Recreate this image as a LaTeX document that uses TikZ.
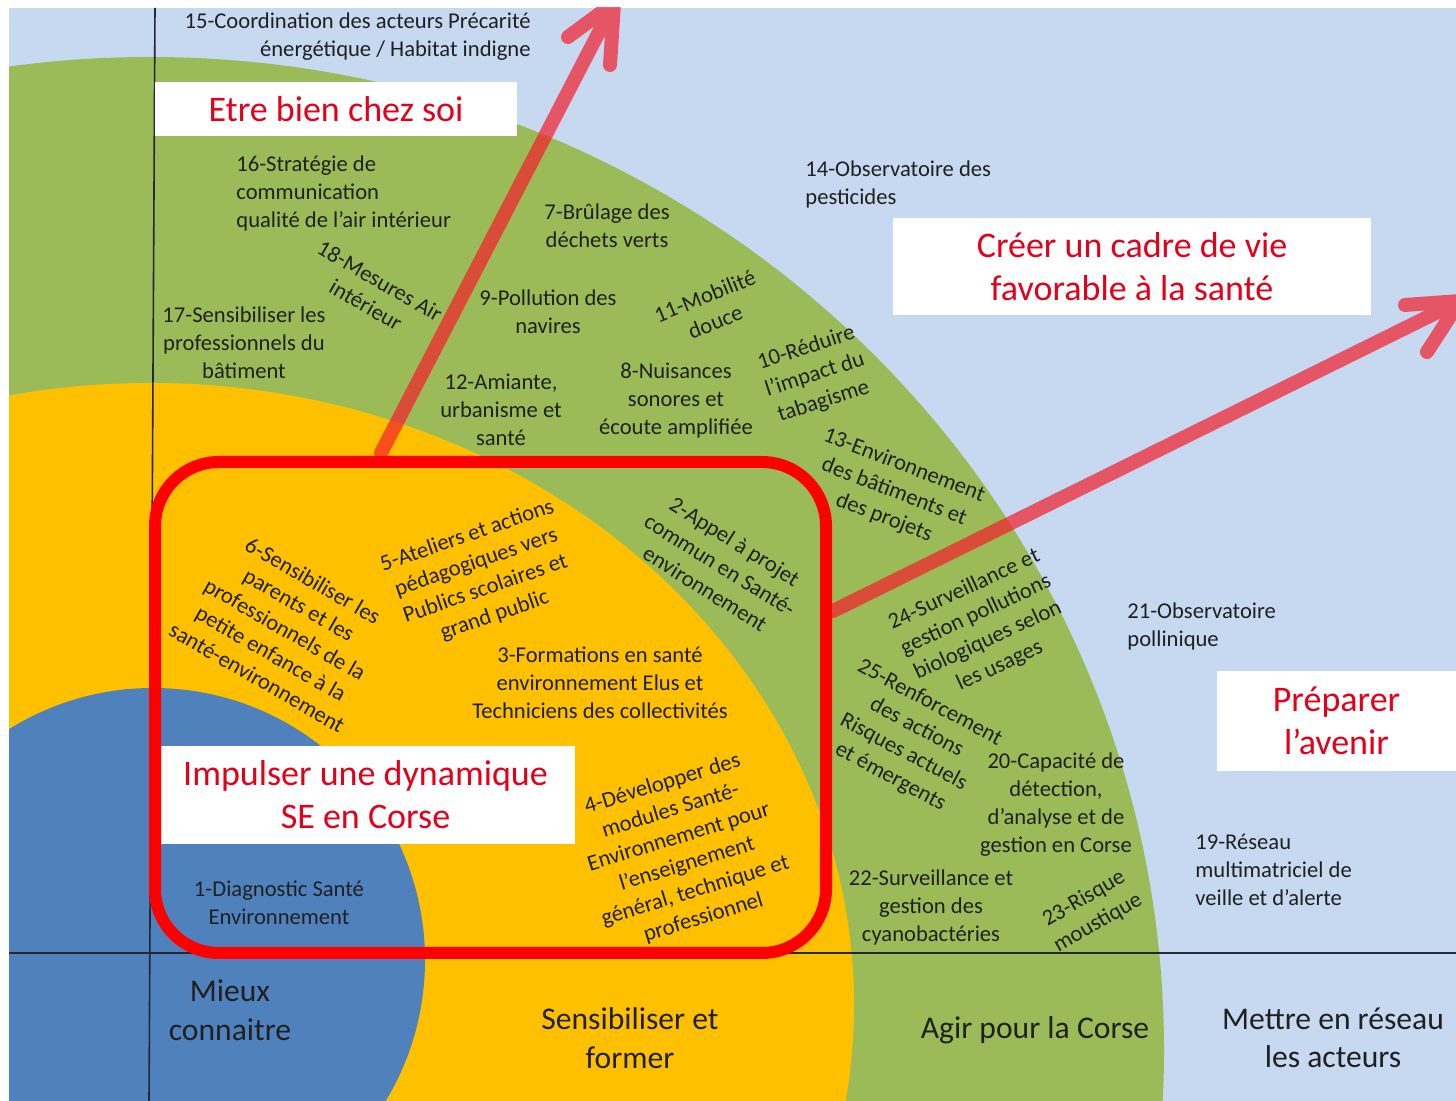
\documentclass[tikz,border=0pt]{standalone}
\usepackage{fontspec}
\setmainfont{Carlito}
\usepackage{tikz}
\usepackage{xcolor}
\definecolor{customsky}{HTML}{C6D9F1}
\definecolor{customgreen}{HTML}{9BBB59}
\definecolor{customyellow}{HTML}{FFC000}
\definecolor{customblue}{HTML}{4F81BD}
\definecolor{customred}{HTML}{E2001A}
\definecolor{customframe}{HTML}{FF0000}
\definecolor{customarrow}{HTML}{F51E2A}
\definecolor{customtext}{HTML}{202020}
\definecolor{customline}{HTML}{262636}

\begin{document}
\begin{tikzpicture}[
    item/.style = {font = \fontsize{11.3pt}{14pt}\selectfont, text = customtext, align = center, inner sep = 0pt},
    axe/.style = {font = \fontsize{15.8pt}{19.3pt}\selectfont, text = customtext, align = center, inner sep = 0pt},
    titre/.style = {fill = white, text = customred, font = \fontsize{18pt}{21.5pt}\selectfont, align = center, inner sep = 0pt},
    fleche/.style = {draw = customarrow, opacity = 0.7, line width = 7pt, line cap = round, line join = round}
]

        \useasboundingbox (0pt, 0pt) rectangle (728pt, 550.5pt);
        \fill [white] (0pt, 0pt) rectangle (728pt, 550.5pt);

        \begin{scope}
        \clip (4.5pt, 0pt) rectangle (728pt, 546.5pt);
        \fill [customsky] (4.5pt, 0pt) rectangle (728pt, 546.5pt);

        % Circles
        \fill [customgreen] (75pt, 25.5pt) ellipse [x radius = 507pt, y radius = 496.5pt];
        \fill [customyellow] (75pt, 48pt) ellipse [x radius = 352pt, y radius = 311pt];
        \fill [customblue] (76.5pt, 70.5pt) circle [radius = 136pt];

        % Axes
        \coordinate (v1) at (77.5pt, 546.5pt);
        \coordinate (v2) at (74.5pt, 0pt);
        \coordinate (h1) at (4.5pt, 74pt);
        \coordinate (h2) at (728pt, 74pt);
        \draw [customline, line width = 0.8pt] (v1) -- (v2);
        \draw [customline, line width = 0.8pt] (h1) -- (h2);

        % Arrows
        \coordinate (a1) at (190.5pt, 324pt);
        \coordinate (a2) at (307pt, 549pt);
        \coordinate (a3) at (284pt, 532pt);
        \coordinate (a4) at (305pt, 518pt);
        \draw [fleche] (a1) -- (a2) (a3) -- (a2) -- (a4);

        \coordinate (c1) at (416.5pt, 245pt);
        \coordinate (c2) at (730pt, 400pt);
        \coordinate (c3) at (702.5pt, 398pt);
        \coordinate (c4) at (713.5pt, 374.5pt);
        \draw [fleche] (c1) -- (c2) (c3) -- (c2) -- (c4);
        \end{scope}

        % Title boxes
        \node [titre, minimum width = 181pt, minimum height = 27pt] (r1) at (168pt, 496pt) {Etre bien chez soi};
        \node [titre, minimum width = 239pt, minimum height = 48.5pt] (r2) at (566pt, 417.25pt) {Créer un cadre de vie\\favorable à la santé};
        \node [titre, minimum width = 119.5pt, minimum height = 50pt] (r3) at (668.25pt, 190pt) {Préparer\\l’avenir};
        \node [titre, minimum width = 209.5pt, minimum height = 49pt] (r4) at (182.75pt, 153pt) {Impulser une dynamique\\SE en Corse};

        % Frame
        \node [draw = customframe, line width = 6pt, rounded corners = 32pt, rectangle, minimum width = 335.5pt, minimum height = 245.5pt] (cadre) at (245.25pt, 196.75pt) {};

        % Actions
        \node [item, align = right, anchor = east] (l15) at (265.5pt, 532pt) {15-Coordination des acteurs Précarité\\énergétique / Habitat indigne};
        \node [item, align = left, anchor = west] (l16) at (118pt, 454pt) {16-Stratégie de\\communication\\qualité de l’air intérieur};
        \node [item] (l17) at (122pt, 379pt) {17-Sensibiliser les\\professionnels du\\bâtiment};
        \node [item, rotate = -30] (l18) at (186.5pt, 404pt) {18-Mesures Air\\intérieur};
        \node [item] (l7) at (303.5pt, 437.5pt) {7-Brûlage des\\déchets verts};
        \node [item] (l9) at (274pt, 394.5pt) {9-Pollution des\\navires};
        \node [item, rotate = 22] (l11) at (355pt, 396pt) {11-Mobilité\\douce};
        \node [item, rotate = 18] (l10) at (407.5pt, 363pt) {10-Réduire\\l’impact du\\tabagisme};
        \node [item] (l12) at (250.5pt, 345.5pt) {12-Amiante,\\urbanisme et\\santé};
        \node [item] (l8) at (338pt, 350pt) {8-Nuisances\\sonores et\\écoute amplifiée};
        \node [item, align = left, anchor = west] (l14) at (402.5pt, 458.5pt) {14-Observatoire des\\pesticides};
        \node [item, rotate = -21] (l13) at (447pt, 304.5pt) {13-Environnement\\des bâtiments et\\des projets};
        \node [item, rotate = -32] (l2) at (360pt, 268pt) {2-Appel à projet\\commun en Santé-\\environnement};
        \node [item, rotate = 19] (l5) at (240.5pt, 262.5pt) {5-Ateliers et actions\\pédagogiques vers\\Publics scolaires et\\grand public};
        \node [item, rotate = -30] (l6) at (142.5pt, 236pt) {6-Sensibiliser les\\parents et les\\professionnels de la\\petite enfance à la\\santé-environnement};
        \node [item] (l3) at (300pt, 209pt) {3-Formations en santé\\environnement Elus et\\Techniciens des collectivités};
        \node [item, rotate = 17] (l4) at (341.5pt, 125pt) {4-Développer des\\modules Santé-\\Environnement pour\\l’enseignement\\général, technique et\\professionnel};
        \node [item] (l1) at (139.5pt, 99pt) {1-Diagnostic Santé\\Environnement};
        \node [item, rotate = 25] (l24) at (491pt, 236.5pt) {24-Surveillance et\\gestion pollutions\\biologiques selon\\les usages};
        \node [item, rotate = -28] (l25) at (455pt, 180.5pt) {25-Renforcement\\des actions\\Risques actuels\\et émergents};
        \node [item] (l20) at (528pt, 148pt) {20-Capacité de\\détection,\\d’analyse et de\\gestion en Corse};
        \node [item] (l22) at (465.5pt, 97pt) {22-Surveillance et\\gestion des\\cyanobactéries};
        \node [item, rotate = 30] (l23) at (545.5pt, 95pt) {23-Risque\\moustique};
        \node [item, align = left, anchor = west] (l21) at (563.5pt, 237.5pt) {21-Observatoire\\pollinique};
        \node [item, align = left, anchor = west] (l19) at (597.5pt, 115.5pt) {19-Réseau\\multimatriciel de\\veille et d’alerte};

        % Axes labels
        \node [axe] (b1) at (115pt, 45.5pt) {Mieux\\connaitre};
        \node [axe] (b2) at (315pt, 31.5pt) {Sensibiliser et\\former};
        \node [axe] (b3) at (517.5pt, 35.5pt) {Agir pour la Corse};
        \node [axe] (b4) at (666.5pt, 31.5pt) {Mettre en réseau\\les acteurs};

    \end{tikzpicture}
\end{document}
